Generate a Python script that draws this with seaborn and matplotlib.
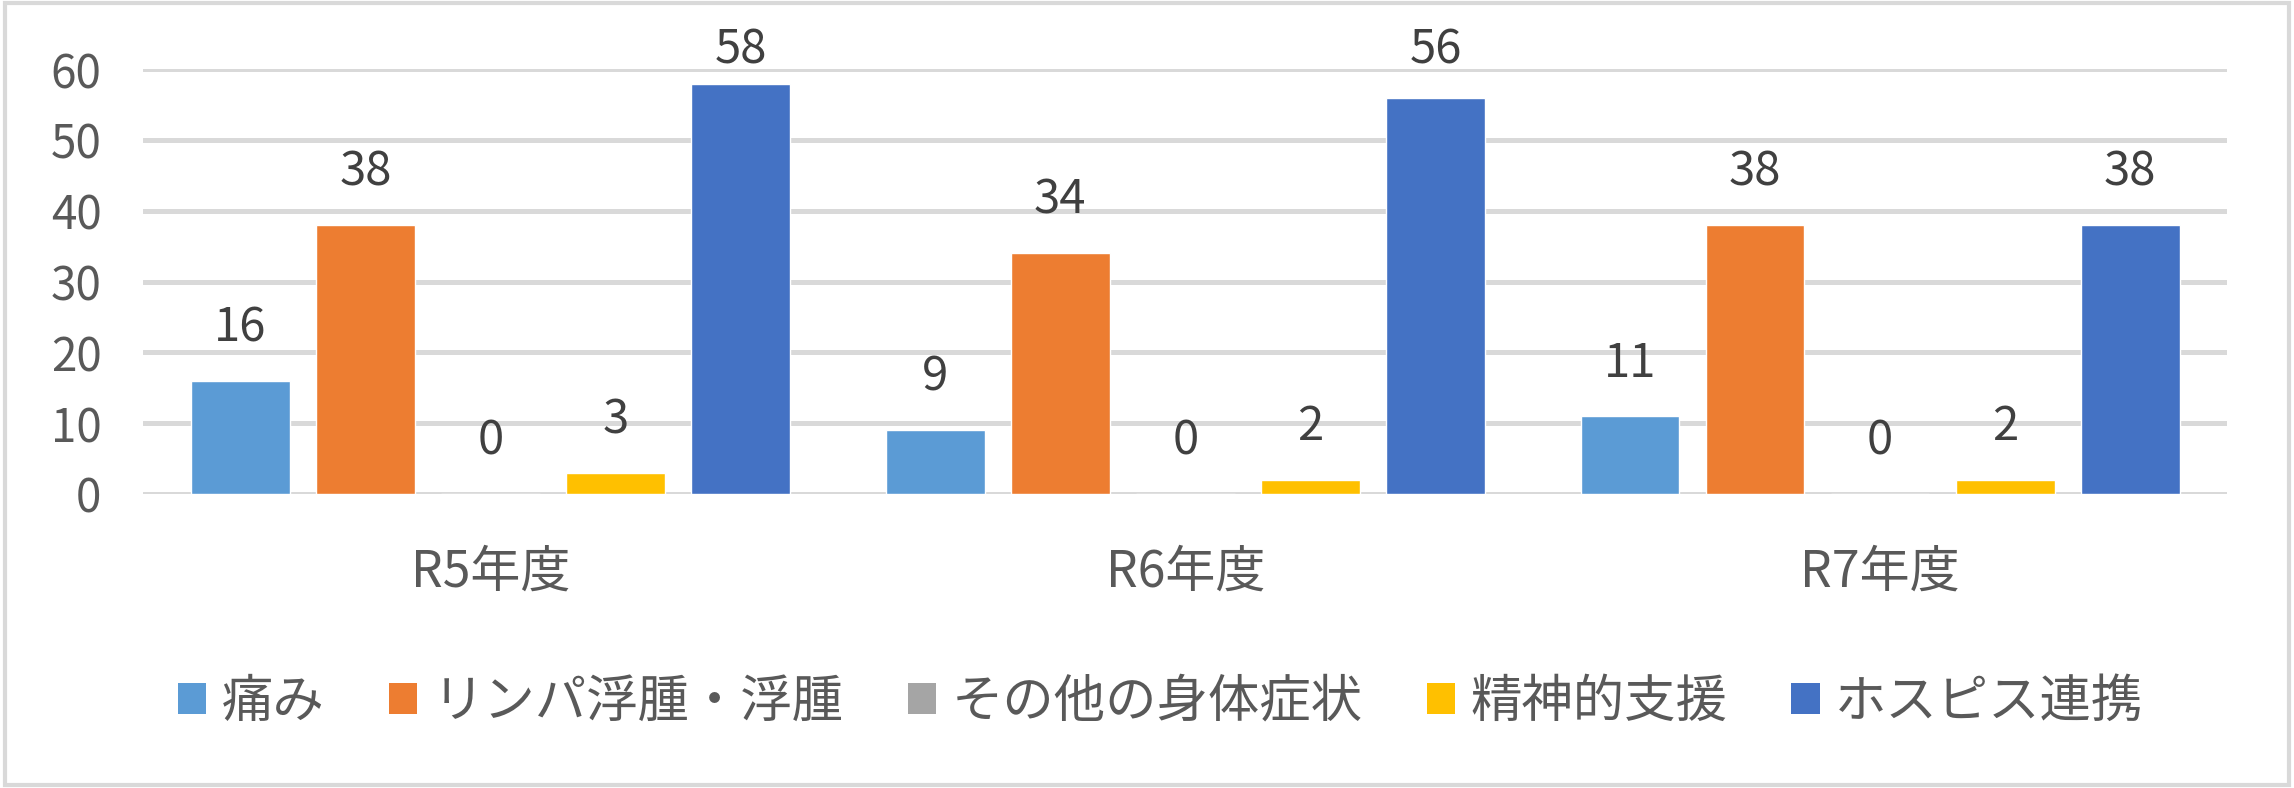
import pandas as pd
import matplotlib
matplotlib.use("Agg")
import matplotlib.pyplot as plt
from matplotlib.patches import Patch, Rectangle
import seaborn as sns

categories = ["R5年度", "R6年度", "R7年度"]
series_names = ["痛み", "リンパ浮腫・浮腫", "その他の身体症状", "精神的支援", "ホスピス連携"]
itami = [16, 9, 11]
rinpa = [38, 34, 38]
sonota = [0, 0, 0]
seishin = [3, 2, 2]
hospice = [58, 56, 38]
colors = ["#5B9BD5", "#ED7D31", "#A5A5A5", "#FFC000", "#4472C4"]

rows = []
for name, vals in zip(series_names, [itami, rinpa, sonota, seishin, hospice]):
    for cat, v in zip(categories, vals):
        rows.append({"year": cat, "series": name, "value": v})
df = pd.DataFrame(rows)

sns.set_theme(style="white")
plt.rcParams["font.family"] = ["Noto Sans CJK JP", "DejaVu Sans"]

fig = plt.figure(figsize=(22.94, 7.88), dpi=100)
ax = fig.add_axes([0.0624, 0.373, 0.9086, 0.539])

sns.barplot(data=df, x="year", y="value", hue="series", order=categories,
            hue_order=series_names, palette=colors, width=0.9, gap=0.21,
            saturation=1, errorbar=None, ax=ax, legend=False)

# data labels, kept inside the chart area like Excel does
for cont in ax.containers:
    labels = ax.bar_label(cont, fmt="%d", padding=38, fontsize=34, color="#404040")
    for t, bar in zip(labels, cont):
        t.set_va("center")
        if bar.get_height() > 50:
            t.xy = (t.xy[0], 60)
            t.xyann = (0, 14)

ax.set_ylim(0, 60)
ax.set_xlim(-0.5, 2.5)
ax.set_yticks(range(0, 61, 10))
ax.yaxis.grid(True, color="#D9D9D9", linewidth=3.6)
ax.set_axisbelow(True)
for s in ax.spines.values():
    s.set_visible(False)
ax.tick_params(axis="y", length=0, pad=30, labelsize=33, labelcolor="#595959")
ax.tick_params(axis="x", length=0, pad=38, labelsize=36, labelcolor="#595959")
ax.set_xlabel("")
ax.set_ylabel("")

handles = [Patch(facecolor=c, edgecolor="none") for c in colors]
fig.legend(handles, series_names, loc="center", bbox_to_anchor=(0.506, 0.109),
           ncol=5, frameon=False, fontsize=37, handlelength=0.55, handleheight=0.55,
           handletextpad=0.3, columnspacing=1.25, labelcolor="#595959")

fig.patches.append(Rectangle((0.002, 0.004), 0.996, 0.992, transform=fig.transFigure,
                             fill=False, edgecolor="#D9D9D9", linewidth=3))

fig.savefig("out.png", dpi=100)
